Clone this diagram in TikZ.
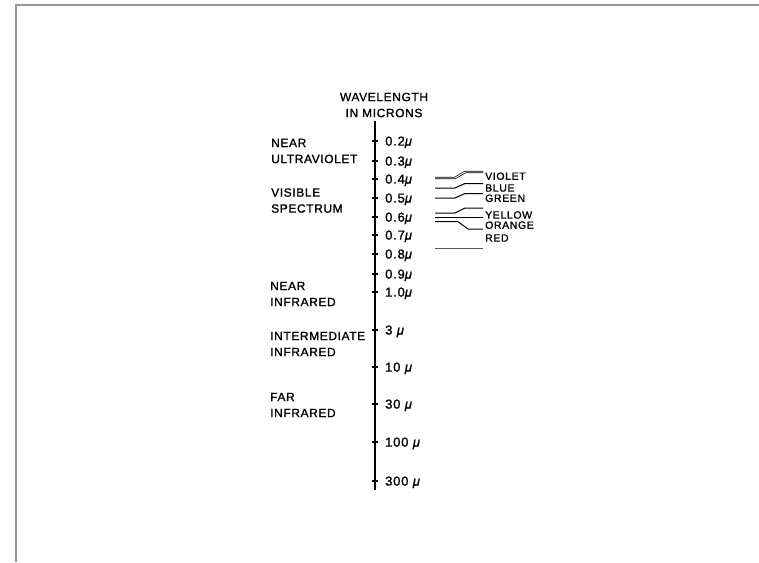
\documentclass[tikz,border=0pt]{standalone}
\usepackage{fontspec}
\setmainfont{Liberation Sans}
\newfontfamily\spacedA[LetterSpace=5,FakeBold=1.2]{Liberation Sans}
\newfontfamily\spacedB[LetterSpace=6,FakeBold=1.2]{Liberation Sans}
\newfontfamily\spacedC[LetterSpace=6,FakeBold=1.2]{Liberation Sans}
\newfontfamily\mufont[FakeBold=1.2]{Liberation Sans Italic}
\newcommand{\mymu}{{\mufont μ}}
\begin{document}
\begin{tikzpicture}[x=1pt,y=-1pt,
  axisline/.style={line width=1.8pt,black},
  tickline/.style={line width=1.2pt,black},
  framel/.style={line width=1.2pt,gray!80},
  region/.style={inner sep=0pt,anchor=west,align=left,font=\spacedA\fontsize{12}{16}\selectfont},
  head/.style={inner sep=0pt,align=center,font=\spacedA\fontsize{12}{16}\selectfont},
  vlab/.style={inner sep=0pt,anchor=base west,font=\spacedB\fontsize{13}{14}\selectfont},
  clab/.style={inner sep=0pt,anchor=base west,font=\spacedC\fontsize{10.5}{12}\selectfont},
  band/.style={line width=1pt,black},
  dband/.style={double,double distance=0.9pt,line width=0.7pt,black}
]
\path[use as bounding box] (0,0) rectangle (759,562);
% frame
\coordinate (fa) at (16,562);
\coordinate (fb) at (16,5);
\coordinate (fc) at (759,5);
\draw[framel] (fa) -- (fb) -- (fc);

% header
\node[head] (hd) at (384,105) {WAVELENGTH\\IN MICRONS};

% axis
\coordinate (top) at (375,121);
\coordinate (bot) at (375,490);
\draw[axisline] (top) -- (bot);

\foreach \n/\y/\t in {a/141/{0.2\mymu},b/161/{0.3\mymu},c/179/{0.4\mymu},d/198/{0.5\mymu},
  e/217/{0.6\mymu},f/235/{0.7\mymu},g/254/{0.8\mymu},h/274/{0.9\mymu},i/292/{1.0\mymu},
  j/330/{3 \mymu},k/367/{10 \mymu},l/404/{30 \mymu},m/442/{100 \mymu},o/481/{300 \mymu}}{
  \coordinate (t\n) at (375,\y);
  \draw[tickline] ([xshift=-3.5pt]t\n) -- ([xshift=3pt]t\n);
  \node[vlab] (l\n) at (385,\y+4.6) {\t};
}

% region labels
\node[region] (nuv) at (271,151) {NEAR\\ULTRAVIOLET};
\node[region] (vis) at (271,200.5) {VISIBLE\\SPECTRUM};
\node[region] (nir) at (270,294) {NEAR\\INFRARED};
\node[region] (iir) at (270,344) {INTERMEDIATE\\INFRARED};
\node[region] (fir) at (270,405) {FAR\\INFRARED};

% colour labels
\node[clab] (cv) at (485,179.8) {VIOLET};
\node[clab] (cb) at (485,191.6) {BLUE};
\node[clab] (cg) at (485,201.8) {GREEN};
\node[clab] (cy) at (485,218.6) {YELLOW};
\node[clab] (co) at (485,228.8) {ORANGE};
\node[clab] (cr) at (485,241.6) {RED};

% colour band lines
\draw[dband] (435,178) -- (455,178) -- (465,172) -- (483,172);
\draw[band] (435,188) -- (455,188) -- (465,183.5) -- (483,183.5);
\draw[band] (435,198) -- (455,198) -- (465,193.5) -- (483,193.5);
\draw[band] (435,213) -- (455,213) -- (465,208) -- (483,208);
\draw[band] (435,217.7) -- (483,217.7);
\draw[band] (435,221.7) -- (458,221.7) -- (468,229) -- (483,229);
\draw[dband,gray!70!black] (435,247.7) -- (483,247.7);
\end{tikzpicture}
\end{document}
